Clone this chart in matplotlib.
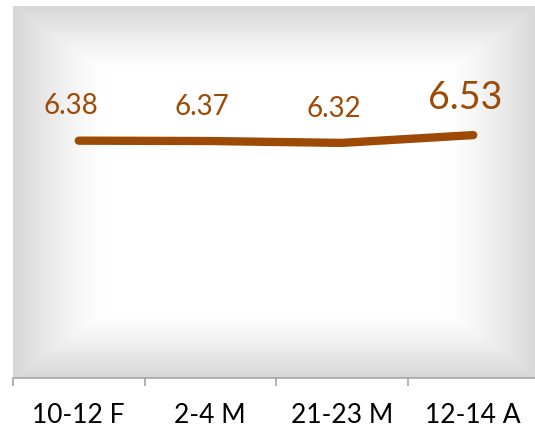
import numpy as np
import matplotlib
matplotlib.use("Agg")
import matplotlib.pyplot as plt

plt.rcParams['font.family'] = ['Lato', 'DejaVu Sans']

categories = ['10-12 F', '2-4 M', '21-23 M', '12-14 A']
values = [6.38, 6.37, 6.32, 6.53]
label_sizes = [20, 20, 20, 27]

brown = '#9c4a06'

fig = plt.figure(figsize=(5.35, 4.29), dpi=100)
ax = fig.add_axes([13 / 535, 51 / 429, 526 / 535, 372 / 429])

x = np.arange(len(categories))
ax.set_xlim(-0.5, 3.5)
ax.set_ylim(0, 10)

# rectangular "from centre" gradient background
u = np.linspace(-1, 1, 400)
v = np.linspace(-1, 1, 300)
U, V = np.meshgrid(u, v)
t = np.maximum(np.abs(U), np.abs(V))
s = np.clip((t - 0.65) / 0.35, 0, 1) ** 1.3
grey = 1 - 0.16 * s
bg = np.dstack([grey, grey, grey])
ax.imshow(bg, extent=(-0.5, 3.5, 0, 10), aspect='auto', zorder=0,
          interpolation='bilinear')

ax.plot(x, values, color=brown, lw=6, solid_capstyle='round',
        solid_joinstyle='round', zorder=3)

for xi, val, fs in zip(x, values, label_sizes):
    ax.annotate(f'{val:.2f}', (xi, val), xytext=(-6, 19), textcoords='offset points',
                ha='center', va='baseline', color=brown, fontsize=fs)

for side in ['left', 'top', 'right']:
    ax.spines[side].set_visible(False)
ax.spines['bottom'].set_color('#a6a6a6')
ax.spines['bottom'].set_linewidth(1.2)

ax.set_yticks([])
ax.set_xticks(x)
ax.set_xticklabels(categories, fontsize=19)
ax.tick_params(axis='x', which='major', length=0, pad=18)
ax.set_xticks(np.arange(-0.5, 3.6, 1), minor=True)
ax.tick_params(axis='x', which='minor', length=6, color='#a6a6a6', width=1.2)

fig.savefig('out.png', dpi=100)
